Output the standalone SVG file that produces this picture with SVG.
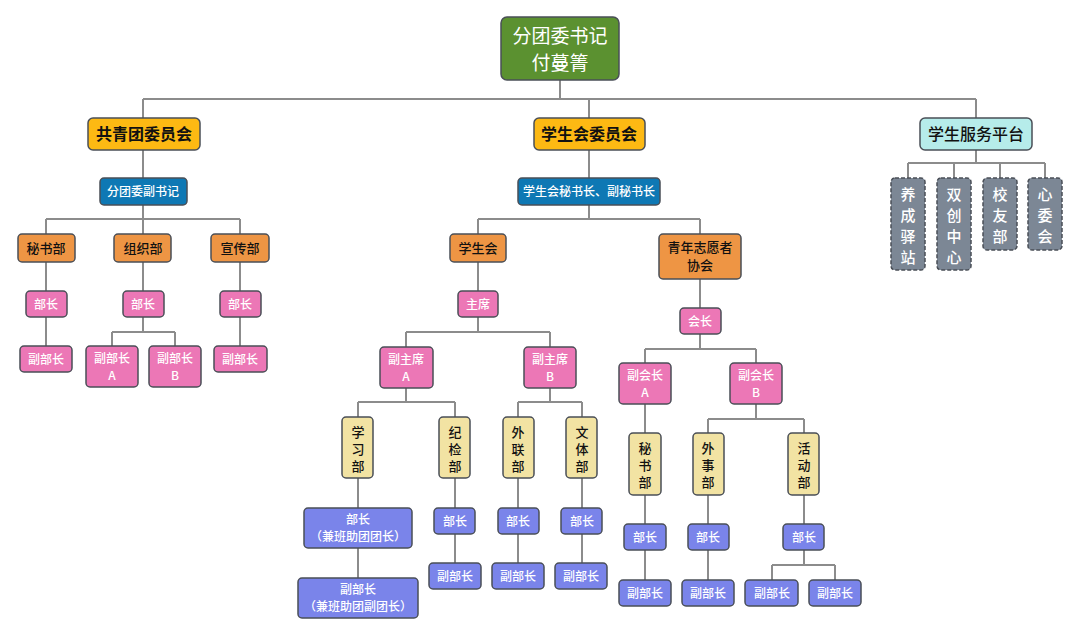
<svg xmlns="http://www.w3.org/2000/svg" width="1080" height="636" viewBox="0 0 1080 636">
<style>
text{font-family:"Noto Sans CJK SC","Liberation Sans",sans-serif;text-anchor:middle}
rect{stroke:#4a4f57;stroke-width:1.5}
.g{fill:#5b9130}.y{fill:#fdb913}.c{fill:#b6ecea}.b{fill:#0e78b4}.o{fill:#ee9544}.p{fill:#ec77b6}.v{fill:#7a84ea}.t{fill:#f2e3a3}
.s{fill:#7c8795;stroke-dasharray:4 2}
.w{fill:#fff;font-size:12px;font-weight:500}.k{fill:#111;font-size:13px;font-weight:500}
.q{fill:#fff;font-size:15px;font-weight:500}
.L{fill:#111;font-size:16px;font-weight:bold}
#conn path{fill:none;stroke:#8c8c8c;stroke-width:2}
</style>
<rect width="1080" height="636" fill="#fff" style="stroke:none"/>
<g id="conn">
<path d="M560 80V99M143 99H976M143 99V118M589 99V118M976 99V118"/>
<path d="M143 150V178M143 205V219M46 219H240M46 219V234M143 219V234M240 219V234M46 262V291M143 262V291M240 262V291M46 317V346M240 317V346M143 317V332M112 332H175M112 332V346M175 332V346"/>
<path d="M589 150V178M589 205V219M478 219H700M478 219V234M700 219V234M478 262V291M478 317V332M406 332H550M406 332V347M550 332V347M406 388V402M358 402H455M358 402V417M455 402V417M550 388V402M518 402H582M518 402V417M582 402V417M358 478V508M358 548V578M455 478V508M455 534V563M518 478V508M518 534V563M582 478V508M582 534V563"/>
<path d="M700 279V308M700 334V349M645 349H756M645 349V363M756 349V363M645 404V433M756 404V419M708 419H804M708 419V433M804 419V433M645 495V524M708 495V524M804 495V524M645 550V580M708 550V580M804 550V565M772 565H835M772 565V580M835 565V580"/>
<path d="M976 150V163M908 163H1045M908 163V178M954 163V178M1000 163V178M1045 163V178"/>
</g>
<g id="root"><rect class="g" x="501" y="17" width="118" height="63" rx="6"/><text x="560" y="43" style="fill:#fff;font-size:19px">分团委书记</text><text x="560" y="70" style="fill:#fff;font-size:19px">付蔓箐</text></g>
<g id="gqt"><rect class="y" x="88" y="118" width="112" height="32" rx="5"/><text class="L" x="144" y="140">共青团委员会</text></g>
<g id="xsh"><rect class="y" x="534" y="118" width="111" height="32" rx="5"/><text class="L" x="589" y="140">学生会委员会</text></g>
<g id="fw"><rect class="c" x="920" y="118" width="112" height="32" rx="5"/><text class="L" x="976" y="140" style="font-weight:500">学生服务平台</text></g>
<g id="fsj"><rect class="b" x="100" y="178" width="87" height="27" rx="4"/><text class="w" x="143" y="196">分团委副书记</text></g>
<g id="msz"><rect class="b" x="518" y="178" width="142" height="27" rx="4"/><text class="w" x="589" y="196">学生会秘书长、副秘书长</text></g>
<g id="msb"><rect class="o" x="18" y="234" width="57" height="28" rx="4"/><text class="k" x="46" y="253">秘书部</text></g>
<g id="zzb"><rect class="o" x="114" y="234" width="57" height="28" rx="4"/><text class="k" x="143" y="253">组织部</text></g>
<g id="xcb"><rect class="o" x="211" y="234" width="58" height="28" rx="4"/><text class="k" x="240" y="253">宣传部</text></g>
<g id="bz1"><rect class="p" x="26" y="291" width="41" height="26" rx="4"/><text class="w" x="46" y="309">部长</text></g>
<g id="bz2"><rect class="p" x="123" y="291" width="41" height="26" rx="4"/><text class="w" x="143" y="309">部长</text></g>
<g id="bz3"><rect class="p" x="220" y="291" width="41" height="26" rx="4"/><text class="w" x="240" y="309">部长</text></g>
<g id="fb1"><rect class="p" x="20" y="346" width="52" height="26" rx="4"/><text class="w" x="46" y="364">副部长</text></g>
<g id="fb2"><rect class="p" x="86" y="346" width="52" height="41" rx="4"/><text class="w" x="112" y="363">副部长</text><text class="w" x="112" y="380">A</text></g>
<g id="fb3"><rect class="p" x="149" y="346" width="52" height="41" rx="4"/><text class="w" x="175" y="363">副部长</text><text class="w" x="175" y="380">B</text></g>
<g id="fb4"><rect class="p" x="214" y="346" width="53" height="26" rx="4"/><text class="w" x="240" y="364">副部长</text></g>
<g id="xs"><rect class="o" x="450" y="234" width="56" height="28" rx="4"/><text class="k" x="478" y="253">学生会</text></g>
<g id="zy"><rect class="o" x="659" y="234" width="82" height="45" rx="4"/><text class="k" x="700" y="252">青年志愿者</text><text class="k" x="700" y="270">协会</text></g>
<g id="zx"><rect class="p" x="458" y="291" width="40" height="26" rx="4"/><text class="w" x="478" y="309">主席</text></g>
<g id="fzxA"><rect class="p" x="380" y="347" width="53" height="41" rx="4"/><text class="w" x="406" y="364">副主席</text><text class="w" x="406" y="381">A</text></g>
<g id="fzxB"><rect class="p" x="524" y="347" width="52" height="41" rx="4"/><text class="w" x="550" y="364">副主席</text><text class="w" x="550" y="381">B</text></g>
<g id="xxb"><rect class="t" x="342" y="417" width="31" height="61" rx="4"/><text class="k" x="358" y="437">学</text><text class="k" x="358" y="454">习</text><text class="k" x="358" y="471">部</text></g>
<g id="jjb"><rect class="t" x="439" y="417" width="31" height="61" rx="4"/><text class="k" x="455" y="437">纪</text><text class="k" x="455" y="454">检</text><text class="k" x="455" y="471">部</text></g>
<g id="wlb"><rect class="t" x="503" y="417" width="31" height="61" rx="4"/><text class="k" x="518" y="437">外</text><text class="k" x="518" y="454">联</text><text class="k" x="518" y="471">部</text></g>
<g id="wtb"><rect class="t" x="566" y="417" width="31" height="61" rx="4"/><text class="k" x="582" y="437">文</text><text class="k" x="582" y="454">体</text><text class="k" x="582" y="471">部</text></g>
<g id="xbz"><rect class="v" x="304" y="508" width="108" height="40" rx="4"/><text class="w" x="358" y="524">部长</text><text class="w" x="358" y="541">（兼班助团团长）</text></g>
<g id="jbz"><rect class="v" x="434" y="508" width="41" height="26" rx="4"/><text class="w" x="455" y="526">部长</text></g>
<g id="wbz"><rect class="v" x="498" y="508" width="41" height="26" rx="4"/><text class="w" x="518" y="526">部长</text></g>
<g id="tbz"><rect class="v" x="561" y="508" width="41" height="26" rx="4"/><text class="w" x="582" y="526">部长</text></g>
<g id="xfb"><rect class="v" x="298" y="578" width="120" height="40" rx="4"/><text class="w" x="358" y="594">副部长</text><text class="w" x="358" y="611">（兼班助团副团长）</text></g>
<g id="jfb"><rect class="v" x="429" y="563" width="52" height="26" rx="4"/><text class="w" x="455" y="581">副部长</text></g>
<g id="wfb"><rect class="v" x="492" y="563" width="52" height="26" rx="4"/><text class="w" x="518" y="581">副部长</text></g>
<g id="tfb"><rect class="v" x="555" y="563" width="52" height="26" rx="4"/><text class="w" x="581" y="581">副部长</text></g>
<g id="hz"><rect class="p" x="680" y="308" width="41" height="26" rx="4"/><text class="w" x="700" y="326">会长</text></g>
<g id="fhzA"><rect class="p" x="619" y="363" width="52" height="41" rx="4"/><text class="w" x="645" y="380">副会长</text><text class="w" x="645" y="397">A</text></g>
<g id="fhzB"><rect class="p" x="730" y="363" width="52" height="41" rx="4"/><text class="w" x="756" y="380">副会长</text><text class="w" x="756" y="397">B</text></g>
<g id="zmsb"><rect class="t" x="629" y="433" width="32" height="62" rx="4"/><text class="k" x="645" y="453">秘</text><text class="k" x="645" y="470">书</text><text class="k" x="645" y="487">部</text></g>
<g id="wsb"><rect class="t" x="693" y="433" width="31" height="62" rx="4"/><text class="k" x="708" y="453">外</text><text class="k" x="708" y="470">事</text><text class="k" x="708" y="487">部</text></g>
<g id="hdb"><rect class="t" x="788" y="433" width="31" height="62" rx="4"/><text class="k" x="804" y="453">活</text><text class="k" x="804" y="470">动</text><text class="k" x="804" y="487">部</text></g>
<g id="zbz1"><rect class="v" x="624" y="524" width="42" height="26" rx="4"/><text class="w" x="645" y="542">部长</text></g>
<g id="zbz2"><rect class="v" x="688" y="524" width="41" height="26" rx="4"/><text class="w" x="708" y="542">部长</text></g>
<g id="zbz3"><rect class="v" x="783" y="524" width="41" height="26" rx="4"/><text class="w" x="804" y="542">部长</text></g>
<g id="zfb1"><rect class="v" x="619" y="580" width="52" height="26" rx="4"/><text class="w" x="645" y="598">副部长</text></g>
<g id="zfb2"><rect class="v" x="682" y="580" width="52" height="26" rx="4"/><text class="w" x="708" y="598">副部长</text></g>
<g id="zfb3"><rect class="v" x="745" y="580" width="53" height="26" rx="4"/><text class="w" x="772" y="598">副部长</text></g>
<g id="zfb4"><rect class="v" x="809" y="580" width="52" height="26" rx="4"/><text class="w" x="835" y="598">副部长</text></g>
<g id="yc"><rect class="s" x="891" y="178" width="34" height="92" rx="4"/><text class="q" x="908" y="200">养</text><text class="q" x="908" y="221">成</text><text class="q" x="908" y="242">驿</text><text class="q" x="908" y="263">站</text></g>
<g id="sc"><rect class="s" x="937" y="178" width="34" height="92" rx="4"/><text class="q" x="954" y="200">双</text><text class="q" x="954" y="221">创</text><text class="q" x="954" y="242">中</text><text class="q" x="954" y="263">心</text></g>
<g id="xy"><rect class="s" x="983" y="178" width="34" height="72" rx="4"/><text class="q" x="1000" y="200">校</text><text class="q" x="1000" y="221">友</text><text class="q" x="1000" y="242">部</text></g>
<g id="xw"><rect class="s" x="1028" y="178" width="34" height="72" rx="4"/><text class="q" x="1045" y="200">心</text><text class="q" x="1045" y="221">委</text><text class="q" x="1045" y="242">会</text></g>
</svg>
